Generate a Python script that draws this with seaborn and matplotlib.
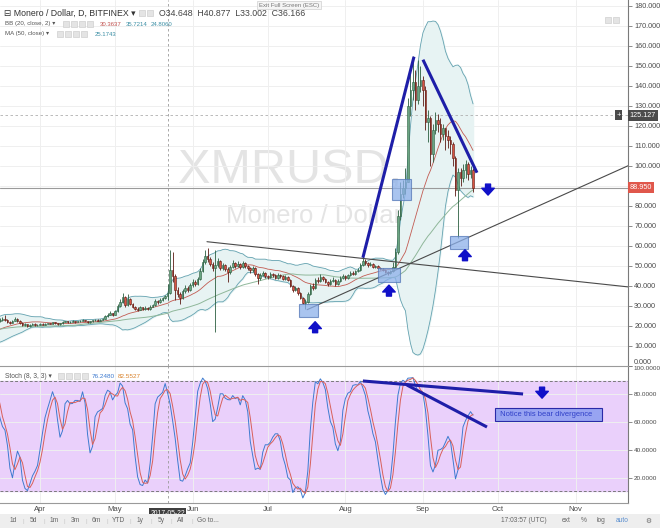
import numpy as np
import pandas as pd
import seaborn as sns
import matplotlib
matplotlib.use("Agg")
import matplotlib.pyplot as plt
import matplotlib.dates as mdates
from matplotlib.patches import Rectangle

# daily XMR/USD (Bitfinex), 2017-02-25 .. 2017-09-21
closes = [
    13.6, 14.0, 14.5, 15.0, 15.6, 16.1, 16.6, 17.4, 17.0, 16.6, 17.0, 17.8, 18.6, 19.6, 20.6, 21.8, 23.2, 24.6, 22.4, 23.0,  # feb/mar warm-up
    23.5, 23.0, 22.0, 21.5, 22.5, 23.5, 22.5, 21.5, 20.5, 20.8, 19.8, 20.5, 21.0, 20.2, 20.6,  # mar 17-31
    21.0, 20.6, 20.9, 21.3, 21.1, 21.8, 21.4, 20.8, 21.2, 21.9, 22.3, 21.7, 22.1, 22.4, 21.9,
    22.2, 22.6, 23.0, 22.4, 21.8, 22.3, 22.7, 23.1, 22.6, 22.9, 23.6, 24.8, 25.6, 26.2, 25.5,  # apr
    27.5, 29.8, 32.0, 34.5, 30.5, 33.5, 31.0, 29.5, 28.5, 28.0, 29.2, 28.4, 29.0, 28.2, 29.6, 30.2,
    32.5, 31.8, 33.0, 33.8, 34.65, 36.17, 48.0, 45.0, 38.0, 36.0, 34.0, 37.5, 39.0, 38.0, 40.5,  # may
    42.0, 41.0, 43.5, 47.5, 52.0, 55.0, 53.5, 51.0, 49.0, 50.5, 52.5, 49.0, 50.5, 48.5, 47.0,
    49.5, 51.5, 50.0, 51.0, 49.5, 51.5, 50.0, 49.0, 48.0, 49.0, 46.0, 44.0, 45.5, 46.5, 45.0,  # jun
    44.5, 46.0, 45.5, 44.0, 45.5, 45.0, 43.5, 44.5, 43.0, 40.0, 38.0, 39.0, 36.5, 34.0, 31.5, 32.0,
    36.0, 40.0, 39.0, 43.0, 42.5, 44.5, 43.5, 42.0, 41.0, 42.5, 43.0, 41.0, 42.5, 44.0, 45.0,  # jul
    44.0, 45.5, 46.5, 46.0, 47.5, 48.0, 50.5, 52.5, 51.5, 50.5, 51.0, 49.5, 50.0, 49.0, 48.5, 48.0,
    47.0, 46.5, 47.5, 49.5, 57.0, 75.0, 86.0, 89.0, 92.0, 130.0, 138.0, 142.0, 133.0, 140.0, 143.0,  # aug
    138, 122, 124, 106, 118, 123, 121, 116, 119, 115, 113, 111, 104, 88, 97, 94, 98, 101, 96, 98, 88.95,  # sep
]
highs = [
    14.0, 14.5, 15.0, 15.5, 16.2, 16.6, 17.2, 18.0, 17.6, 17.2, 17.5, 18.3, 19.2, 20.2, 21.3, 22.5, 24.5, 27.0, 25.0, 23.8,
    24.5, 25.5, 23.6, 22.4, 23.0, 24.2, 23.8, 22.8, 21.8, 21.4, 21.0, 20.9, 21.6, 21.2, 20.9,
    21.4, 21.2, 21.2, 21.6, 21.5, 22.1, 21.9, 21.5, 21.5, 22.2, 22.6, 22.4, 22.4, 22.7, 22.5,
    22.5, 22.9, 23.3, 23.1, 22.5, 22.6, 23.0, 23.5, 23.2, 23.2, 24.0, 25.5, 26.5, 27.2, 26.5,
    28.0, 31.0, 33.5, 36.5, 35.0, 36.0, 34.0, 31.5, 30.0, 29.2, 30.0, 29.6, 29.8, 29.3, 30.2, 31.0,
    33.5, 33.0, 34.0, 34.5, 35.5, 40.88, 58.0, 57.0, 46.0, 39.5, 37.0, 38.5, 40.5, 40.0, 41.5,
    43.5, 43.0, 44.5, 49.0, 53.5, 58.0, 59.0, 54.5, 52.0, 58.0, 54.0, 53.0, 51.5, 51.0, 49.5,
    50.5, 53.0, 52.0, 52.5, 51.5, 52.5, 52.0, 50.5, 49.5, 50.0, 49.5, 46.5, 46.5, 47.5, 47.0,
    45.5, 47.0, 46.5, 46.0, 46.5, 46.0, 45.5, 45.5, 45.0, 43.5, 40.5, 40.0, 39.5, 37.0, 34.5, 33.5,
    37.0, 41.0, 41.5, 44.0, 44.5, 46.0, 45.0, 44.0, 42.5, 43.5, 44.5, 43.5, 43.5, 45.0, 46.0,
    45.5, 46.0, 47.5, 47.5, 48.0, 49.0, 51.5, 55.0, 53.5, 52.0, 52.0, 51.5, 50.5, 50.5, 49.5, 49.0,
    48.5, 47.5, 48.0, 52.0, 59.0, 78.0, 92.0, 93.0, 99.0, 134.0, 146.0, 155.0, 148.0, 153.0, 150.0,
    145, 140, 128, 125, 121, 127, 126, 124, 121, 119, 118, 115, 112, 105, 99, 99, 101, 103, 102, 100, 99,
]
lows = [
    13.2, 13.5, 13.9, 14.4, 14.9, 15.5, 16.0, 16.5, 16.5, 16.1, 16.5, 16.9, 17.7, 18.5, 19.5, 20.4, 21.5, 22.8, 21.5, 22.0,
    22.4, 22.6, 21.6, 20.9, 21.2, 22.2, 22.0, 21.0, 20.1, 20.1, 19.4, 19.5, 20.2, 19.9, 19.8,
    20.4, 20.3, 20.4, 20.7, 20.8, 20.9, 21.1, 20.5, 20.6, 21.0, 21.7, 21.4, 21.5, 21.9, 21.6,
    21.7, 22.0, 22.4, 22.2, 21.5, 21.6, 22.1, 22.5, 22.3, 22.4, 22.7, 23.4, 24.5, 25.3, 25.1,
    25.2, 27.0, 29.5, 31.5, 29.5, 30.0, 30.5, 28.8, 27.8, 27.2, 27.8, 27.9, 28.0, 27.8, 28.0, 29.2,
    30.0, 31.0, 31.2, 32.6, 33.2, 33.0, 36.0, 42.0, 33.0, 34.5, 31.0, 33.5, 36.5, 37.0, 37.5,
    39.5, 40.0, 40.5, 43.0, 47.0, 51.0, 52.0, 50.0, 47.5, 17.0, 49.5, 48.0, 48.0, 47.5, 42.0,
    46.0, 49.0, 49.0, 49.5, 48.5, 49.0, 49.0, 48.0, 46.5, 47.0, 45.0, 41.0, 43.0, 45.0, 44.0,
    43.5, 44.0, 44.5, 43.5, 43.5, 44.0, 43.0, 43.0, 42.5, 39.5, 37.0, 37.5, 35.5, 33.5, 31.0, 28.5,
    31.5, 35.5, 38.0, 38.5, 41.5, 42.0, 42.5, 41.5, 40.0, 40.5, 42.0, 40.0, 40.5, 42.0, 43.5,
    43.0, 43.5, 45.0, 45.5, 45.5, 47.0, 47.5, 50.0, 50.5, 49.5, 50.0, 49.0, 49.0, 48.5, 48.0, 47.5,
    46.5, 45.5, 46.0, 47.0, 49.0, 56.0, 73.0, 84.0, 86.0, 92.0, 125.0, 133.0, 128.0, 131.0, 137.0,
    130, 118, 112, 100, 102, 116, 117, 112, 113, 108, 109, 106, 100, 85, 64, 90, 92, 94, 93, 94, 87,
]
start_date = "2017-02-25"

price_ticks = list(range(0, 190, 10))
stoch_ticks = [20, 40, 60, 80, 100]
stoch_bands = [11, 89]
month_ticks = ["2017-04-01", "2017-05-01", "2017-06-01", "2017-07-01",
               "2017-08-01", "2017-09-01", "2017-10-01", "2017-11-01"]
month_labels = ["Apr", "May", "Jun", "Jul", "Aug", "Sep", "Oct", "Nov"]
cross_date = "2017-05-22"
cross_price = 125.127
last_price = 88.950

# annotations drawn on the chart (date, value)
blue_lines = [(("2017-08-08", 54), ("2017-08-28 10:00", 154.5)),
              (("2017-09-01", 153), ("2017-09-22 14:00", 96.5))]
stoch_lines = [(("2017-08-08", 89.3), ("2017-10-11", 80.0)),
               (("2017-08-25 14:00", 86.4), ("2017-09-26 14:00", 56.4))]
black_lines = [(("2017-06-06 17:00", 62), ("2017-11-22", 39.4)),
               (("2017-07-16 17:00", 28), ("2017-11-22", 100))]
boxes = [("2017-07-13 12:00", "2017-07-21 02:00", 24.4, 30.9),
         ("2017-08-14", "2017-08-22 19:00", 41.9, 48.9),
         ("2017-08-19 14:00", "2017-08-27 05:00", 82.9, 93.4),
         ("2017-09-11 19:00", "2017-09-19", 58.4, 64.9)]
price_arrows = [("2017-07-19 22:00", 22.0, "up"), ("2017-08-18 10:00", 40.3, "up"),
                ("2017-09-17 19:00", 58.0, "up"), ("2017-09-27", 85.3, "down")]
stoch_arrows = [("2017-10-18 14:00", 77.0, "down")]

df = pd.DataFrame({"date": pd.date_range(start_date, periods=len(closes), freq="D"),
                   "close": closes, "high": highs, "low": lows})
df["open"] = df["close"].shift(1).fillna(df["close"].iloc[0])
df["basis"] = df["close"].rolling(20, min_periods=1).mean()
sd = df["close"].rolling(20, min_periods=1).std(ddof=0)
df["upper"] = df["basis"] + 2 * sd
df["lower"] = df["basis"] - 2 * sd
df["ma50"] = df["close"].rolling(50, min_periods=1).mean()
ll = df["low"].rolling(8, min_periods=1).min()
hh = df["high"].rolling(8, min_periods=1).max()
df["k"] = (100 * (df["close"] - ll) / (hh - ll)).rolling(3, min_periods=1).mean()
df["d"] = df["k"].rolling(3, min_periods=1).mean()

sns.set_style("white")
plt.rcParams["font.family"] = ["Liberation Sans", "DejaVu Sans"]

W, H = 660, 528
fig = plt.figure(figsize=(6.6, 5.28), dpi=100)
ax1 = fig.add_axes([0, 1 - 366 / H, 628 / W, 366 / H])
ax2 = fig.add_axes([0, 1 - 503 / H, 628 / W, 137 / H], sharex=ax1)

apr1 = mdates.date2num(pd.Timestamp("2017-04-01"))
ax1.set_xlim(apr1 - 40 / 2.503, apr1 + 588 / 2.503)
ax1.set_ylim(-0.15, 182.85)
ax2.set_ylim(2.1, 100)

T = lambda s: mdates.date2num(pd.Timestamp(s))
xd = mdates.date2num(df["date"])

# grid
for ax in (ax1, ax2):
    ax.set_xticks([T(m) for m in month_ticks])
    ax.grid(True, color="#efefef", lw=0.7)
    ax.set_axisbelow(True)
    ax.yaxis.tick_right()
    for s in ("left", "top", "bottom"):
        ax.spines[s].set_visible(False)
    ax.spines["right"].set_color("#7a7a7a")
    ax.spines["right"].set_linewidth(0.8)
ax2.spines["top"].set_visible(True)
ax2.spines["top"].set_color("#9a9a9a")
ax2.spines["bottom"].set_visible(True)
ax2.spines["bottom"].set_color("#9a9a9a")

# watermark
ax1.text(0.5, 0.5, "XMRUSD, D", transform=ax1.transAxes, ha="center", va="baseline",
         fontsize=35, color="#e4e4e4", zorder=0)
ax1.text(0.5, 0.392, "Monero / Dollar", transform=ax1.transAxes, ha="center", va="baseline",
         fontsize=18.5, color="#e4e4e4", zorder=0)

# bollinger + ma
ax1.fill_between(xd, df["lower"], df["upper"], color="#e7f3f3", zorder=1)
sns.lineplot(x=df["date"], y=df["upper"], ax=ax1, color="#64a2b0", lw=0.6, zorder=2)
sns.lineplot(x=df["date"], y=df["lower"], ax=ax1, color="#64a2b0", lw=0.6, zorder=2)
sns.lineplot(x=df["date"], y=df["basis"], ax=ax1, color="#c25b52", lw=0.6, zorder=2)
sns.lineplot(x=df["date"], y=df["ma50"], ax=ax1, color="#8fb79a", lw=0.7, zorder=2)

# candles
up = df["close"] >= df["open"]
body_lo = np.minimum(df["open"], df["close"])
body_h = np.maximum(np.abs(df["close"] - df["open"]), 0.4)
wick_c = np.where(up, "#2b5e3f", "#5b1a13")
ax1.vlines(xd, df["low"], df["high"], colors=wick_c, lw=0.6, zorder=3)
ax1.bar(xd, body_h, bottom=body_lo, width=0.62, color=np.where(up, "#6ba583", "#d75442"),
        edgecolor=wick_c, lw=0.4, zorder=4)

# crosshair / last price
ax1.axhline(last_price, color="#9a9a9a", lw=0.8, zorder=2)
ax1.axhline(cross_price, color="#b0b0b0", lw=0.6, ls=(0, (3, 3)), zorder=2)
for ax in (ax1, ax2):
    ax.axvline(T(cross_date), color="#9a9a9a", lw=0.6, ls=(0, (3, 3)), zorder=2)

# drawings
for (a, b) in black_lines:
    ax1.plot([T(a[0]), T(b[0])], [a[1], b[1]], color="#4a4a4a", lw=0.8, zorder=5)
for (a, b) in blue_lines:
    ax1.plot([T(a[0]), T(b[0])], [a[1], b[1]], color="#1e1ea8", lw=2.2, zorder=6,
             solid_capstyle="butt")
for (x0, x1, y0, y1) in boxes:
    ax1.add_patch(Rectangle((T(x0), y0), T(x1) - T(x0), y1 - y0, facecolor="#8cb0ea",
                            edgecolor="#5578b8", lw=0.8, alpha=0.75, zorder=6))


def arrow(ax, x, y, way):
    off = -11 if way == "up" else 11
    ax.annotate("", xy=(T(x), y), xytext=(0, off), textcoords="offset pixels",
                arrowprops=dict(arrowstyle="simple,head_length=0.55,head_width=1.0,tail_width=0.4",
                                color="#1010c8", shrinkA=0, shrinkB=0, mutation_scale=9),
                zorder=7)


for x, y, w in price_arrows:
    arrow(ax1, x, y, w)

# stochastic
ax2.fill_between([ax1.get_xlim()[0], ax1.get_xlim()[1]], stoch_bands[0], stoch_bands[1],
                 color="#ead0fb", zorder=0)
for b in stoch_bands:
    ax2.axhline(b, color="#7a7a7a", lw=0.7, ls=(0, (3, 2)), zorder=1)
sns.lineplot(x=df["date"], y=df["k"], ax=ax2, color="#3e7bd0", lw=0.7, zorder=3)
sns.lineplot(x=df["date"], y=df["d"], ax=ax2, color="#d8605a", lw=0.7, zorder=3)
for (a, b) in stoch_lines:
    ax2.plot([T(a[0]), T(b[0])], [a[1], b[1]], color="#1e1ea8", lw=2.2, zorder=6,
             solid_capstyle="butt")
for x, y, w in stoch_arrows:
    arrow(ax2, x, y, w)
ax2.text(T("2017-10-01"), 65.6, " Notice this bear divergence   ", fontsize=5.4, color="#2f3fc8",
         va="center", ha="left", zorder=8,
         bbox=dict(boxstyle="square,pad=0.4", fc="#98a4f2", ec="#2a2aa8", lw=0.8))

# axes ticks
ax1.set_yticks(price_ticks)
ax1.set_yticklabels(["" if v == 90 else f"{v:.3f}" for v in price_ticks])
ax2.set_yticks(stoch_ticks)
ax2.set_yticklabels([f"{v:.4f}" for v in stoch_ticks])
for ax in (ax1, ax2):
    ax.set_xlabel("")
    ax.set_ylabel("")
    ax.tick_params(axis="y", which="both", right=True, length=3, width=0.6, color="#7a7a7a",
                   labelsize=5.2, labelcolor="#4a4a4a", pad=1.5)
ax2.tick_params(axis="y", labelsize=4.6, pad=1)
ax1.get_yticklabels()[0].set_va("bottom")
ax2.get_yticklabels()[-1].set_va("top")
ax1.tick_params(axis="x", length=0, labelbottom=False)
ax2.tick_params(axis="x", length=0, labelsize=5.6, labelcolor="#4a4a4a", pad=2)
ax2.set_xticklabels(month_labels)

# right-axis price markers
ax1.text(1.003, last_price, f"{last_price:.3f}", transform=ax1.get_yaxis_transform(), fontsize=5.2,
         color="white", va="center", ha="left", zorder=10,
         bbox=dict(boxstyle="square,pad=0.25", fc="#e0574b", ec="none"), clip_on=False)
ax1.text(1.003, cross_price, f"{cross_price:.3f}", transform=ax1.get_yaxis_transform(), fontsize=5.2,
         color="white", va="center", ha="left", zorder=10,
         bbox=dict(boxstyle="square,pad=0.25", fc="#4b4b4b", ec="none"), clip_on=False)
ax1.text(0.985, cross_price, "+", transform=ax1.get_yaxis_transform(), fontsize=5.5,
         color="white", va="center", ha="center", zorder=10,
         bbox=dict(boxstyle="square,pad=0.2", fc="#4b4b4b", ec="none"))
ax2.text(T(cross_date), -0.05, cross_date, transform=ax2.get_xaxis_transform(), fontsize=4.9,
         color="white", va="top", ha="center", zorder=10,
         bbox=dict(boxstyle="square,pad=0.22", fc="#3f3f3f", ec="none"), clip_on=False)


def ftext(x, y, s, **kw):
    fig.text(x / W, 1 - y / H, s, va="center", **kw)


def icons(xs, y):
    for x in xs:
        fig.add_artist(Rectangle((x / W, 1 - (y + 3) / H), 6 / W, 6 / H, transform=fig.transFigure,
                                 fc="#e4e4e4", ec="#cfcfcf", lw=0.5))


# legend headers
ftext(4, 13, "\u229f Monero / Dollar, D, BITFINEX \u25be", fontsize=6.3, color="#333333")
icons([139, 147], 13)
ftext(159, 13, "O34.648  H40.877  L33.002  C36.166", fontsize=6.3, color="#444444")
ftext(5, 24, "BB (20, close, 2) \u25be", fontsize=4.4, color="#555555")
icons([63, 71, 79, 87], 24)
ftext(100, 24, "30.3637", fontsize=4.3, color="#c0504d")
ftext(126, 24, "35.7214", fontsize=4.3, color="#3c8fa5")
ftext(151, 24, "24.8060", fontsize=4.3, color="#3c8fa5")
ftext(5, 34, "MA (50, close) \u25be", fontsize=4.4, color="#555555")
icons([57, 65, 73, 81], 34)
ftext(95, 34, "25.1743", fontsize=4.3, color="#3c8fa5")
ftext(5, 376, "Stoch (8, 3, 3) \u25be", fontsize=4.8, color="#555555")
icons([58, 66, 74, 82], 376)
ftext(92, 376, "76.2480", fontsize=4.6, color="#3e7bd0")
ftext(118, 376, "82.5527", fontsize=4.6, color="#d9822b")
ftext(259, 5, "Exit Full Screen (ESC)", fontsize=4.3, color="#777777",
      bbox=dict(boxstyle="square,pad=0.3", fc="#f5f5f5", ec="#d0d0d0", lw=0.5))
icons([605, 613], 20)

# bottom toolbar
fig.add_artist(Rectangle((0, 0), 1, 14 / H, transform=fig.transFigure, fc="#eeeeee", ec="none"))
tools = ["1d", "5d", "1m", "3m", "6m", "YTD", "1y", "5y", "All", "Go to..."]
tool_x = [13, 33, 54, 75, 96, 119, 140, 161, 181, 208]
for s, x in zip(tools, tool_x):
    ftext(x, 521, s, fontsize=4.8, color="#666666", ha="center")
for x in [23, 44, 64, 86, 107, 130, 151, 171, 192]:
    ftext(x, 521, "|", fontsize=4.5, color="#c8c8c8", ha="center")
for s, x in zip(["17:03:57 (UTC)", "ext", "%", "log", "auto", "\u2699"], [524, 566, 584, 601, 622, 648]):
    ftext(x, 521, s, fontsize=4.8, color="#5b8fd0" if s == "auto" else "#666666", ha="center")

fig.savefig("out.png", dpi=100)
